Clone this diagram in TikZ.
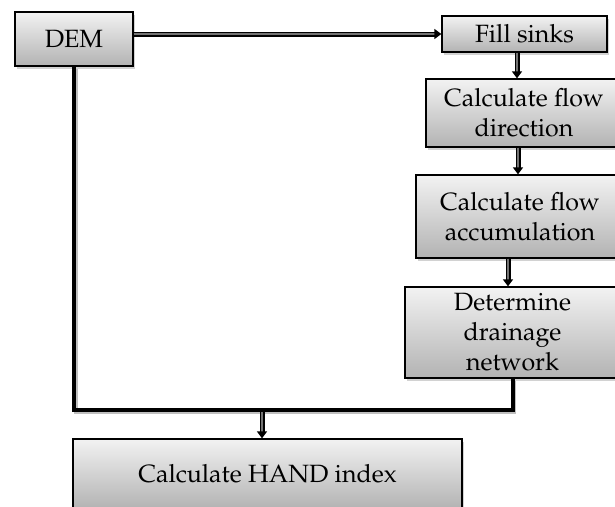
\documentclass[tikz,border=0pt]{standalone}
\usepackage[T1]{fontenc}
\usepackage{mathpazo}
\usetikzlibrary{arrows.meta,shadows,calc}
\begin{document}
\begin{tikzpicture}[x=1pt,y=-1pt,
  box/.style={draw=black,line width=1.3pt,
    top color=white!95!black,bottom color=white!70!black,
    drop shadow={opacity=0.35,shadow xshift=2pt,shadow yshift=-2.5pt},
    inner sep=0pt,align=center,
    font=\fontsize{25}{30}\selectfont},
  flowarrow/.style={draw=black,line width=1.4pt,double=black!55,double distance=2.2pt,
    -{Triangle[width=10pt,length=7pt,fill=black]}},
  thickline/.style={draw=black,line width=4pt,line join=miter},
  lineshadow/.style={draw=black!25,line width=4pt,line join=miter},
]
\useasboundingbox (0,0) rectangle (615,506);
\clip (0,0) rectangle (615,506);
\fill[white] (0,0) rectangle (615,506);

\coordinate (j) at (262,410);
\coordinate (c1) at (517,0);
\coordinate (c2) at (518,0);
\coordinate (c3) at (508,0);

\node[box,minimum width=118pt,minimum height=54pt] (dem) at (74,39) {DEM};
\node[box,minimum width=165pt,minimum height=36pt] (fill) at (524.5,34) {Fill sinks};
\node[box,minimum width=196pt,minimum height=68pt] (dir) at (524,113) {Calculate flow\\direction};
\node[box,minimum width=208pt,minimum height=83pt] (acc) at (520,216.5) {Calculate flow\\accumulation};
\node[box,minimum width=215pt,minimum height=91pt] (drain) at (512.5,332.5) {Determine\\drainage\\network};
\node[box,minimum width=389pt,minimum height=70pt] (hand) at (267.5,474) {Calculate HAND index};

\begin{scope}[transform canvas={shift={(1.5pt,-2pt)}}]
  \draw[lineshadow] (dem.south) |- (j) -| (drain.south);
\end{scope}
\draw[thickline] (dem.south) |- (j) -| (drain.south);

\draw[flowarrow] (dem.east |- fill.west) -- (fill.west);
\draw[flowarrow] (fill.south -| c1) -- (dir.north -| c1);
\draw[flowarrow] (dir.south -| c2) -- (acc.north -| c2);
\draw[flowarrow] (acc.south -| c3) -- (drain.north -| c3);
\draw[flowarrow] ([yshift=-2pt]j) -- (hand.north -| j);
\end{tikzpicture}
\end{document}
